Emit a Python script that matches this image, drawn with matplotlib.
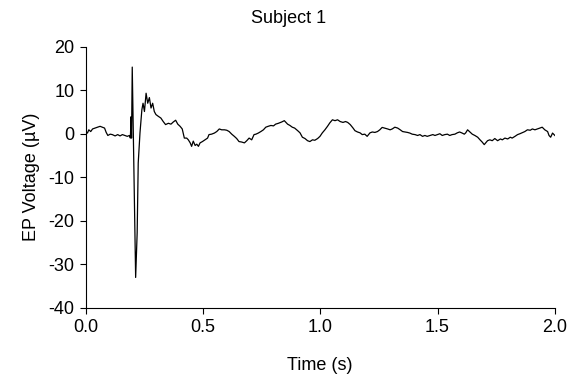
import matplotlib
matplotlib.use("Agg")
import matplotlib.pyplot as plt
from matplotlib.ticker import FormatStrFormatter

plt.rcParams['font.family'] = ['Liberation Sans', 'DejaVu Sans']
plt.rcParams['axes.unicode_minus'] = False

# trace
time_s = [
    0.000, 0.008, 0.014, 0.022, 0.030, 0.040, 0.051, 0.062, 0.072, 0.081, 0.088, 0.095,
    0.105, 0.114, 0.126, 0.137, 0.147, 0.157, 0.168, 0.178, 0.187, 0.191, 0.194, 0.196,
    0.199, 0.2135, 0.220, 0.2245, 0.232, 0.240, 0.245, 0.251, 0.258, 0.265, 0.272, 0.279,
    0.286, 0.293, 0.300, 0.310, 0.321, 0.331, 0.341, 0.353, 0.364, 0.374, 0.384, 0.393,
    0.403, 0.412, 0.421,
    0.431, 0.438, 0.446, 0.452, 0.459, 0.467, 0.474, 0.481, 0.488, 0.498, 0.509, 0.520,
    0.526, 0.537, 0.549, 0.559, 0.570, 0.580, 0.592, 0.602, 0.612, 0.623, 0.634, 0.644,
    0.654, 0.665, 0.677, 0.687, 0.697, 0.708, 0.718, 0.726, 0.736, 0.747, 0.758, 0.768,
    0.778, 0.790, 0.801, 0.810, 0.822, 0.836, 0.847,
    0.861, 0.871, 0.881, 0.891, 0.904, 0.914, 0.924, 0.935, 0.946, 0.956, 0.967, 0.977,
    0.989, 0.999, 1.009, 1.020, 1.031, 1.041, 1.052, 1.063, 1.074, 1.085, 1.097, 1.108,
    1.117, 1.128, 1.140, 1.148, 1.159, 1.170, 1.179, 1.190, 1.200, 1.212, 1.222, 1.233,
    1.244, 1.254, 1.264,
    1.287, 1.298, 1.307, 1.318, 1.330, 1.341, 1.351, 1.361, 1.372, 1.382, 1.392, 1.404,
    1.415, 1.425, 1.436, 1.446, 1.456, 1.468, 1.480, 1.489, 1.500, 1.510, 1.520, 1.531,
    1.542, 1.552, 1.562, 1.574, 1.584, 1.594, 1.605, 1.614, 1.620, 1.628, 1.638, 1.648,
    1.659, 1.671, 1.681, 1.690, 1.699,
    1.713, 1.723, 1.733, 1.744, 1.756, 1.768, 1.776, 1.787, 1.799, 1.810, 1.818, 1.830,
    1.841, 1.851, 1.863, 1.872, 1.883, 1.895, 1.904, 1.915, 1.926, 1.936, 1.946, 1.957,
    1.969, 1.975, 1.982, 1.990, 2.000,
]
voltage_uv = [
    0.5, 0.15, 0.9, 0.5, 1.1, 1.3, 1.5, 1.7, 1.5, 1.3, 0.3, -0.4,
    -0.1, -0.2, -0.5, -0.2, -0.5, -0.2, -0.4, -0.6, -0.4, -1.0, 3.9, -1.0,
    15.3, -33.0, -22.7, -6.7, 0.2, 5.5, 7.0, 5.1, 9.3, 7.0, 8.3, 5.9,
    7.0, 5.1, 4.4, 4.0, 3.6, 2.8, 2.1, 2.4, 2.2, 2.7, 3.1, 2.2,
    1.7, 1.1, -1.0,
    -1.0, -1.4, -2.1, -2.9, -1.7, -2.7, -2.4, -2.9, -2.1, -1.8, -1.4, -1.0,
    -0.2, -0.1, 0.15, 0.5, 1.1, 0.9, 0.9, 0.8, 0.5, -0.1, -0.6, -1.1,
    -1.8, -1.9, -2.1, -1.6, -1.0, -1.4, -0.2, -0.1, 0.15, 0.5, 0.9, 1.5,
    1.7, 1.9, 1.8, 2.2, 2.4, 2.7, 3.0,
    2.2, 1.9, 1.5, 1.3, 0.7, 0.2, -0.8, -1.1, -1.6, -1.8, -1.4, -1.5,
    -1.1, -0.6, 0.2, 0.9, 1.7, 2.5, 3.2, 3.0, 3.2, 2.8, 2.6, 2.8,
    2.6, 2.1, 1.3, 0.7, 0.4, 0.2, -0.2, -0.1, -0.6, 0.2, 0.4, 0.3,
    0.5, 0.9, 1.45,
    1.1, 0.9, 1.1, 1.5, 1.3, 0.9, 0.5, 0.4, 0.3, 0.15, -0.1, -0.2,
    -0.4, -0.2, -0.6, -0.4, -0.6, -0.4, -0.2, -0.4, -0.2, 0.0, -0.4, -0.2,
    -0.1, -0.4, -0.2, -0.1, 0.2, 0.4, 0.15, -0.1, 0.2, 0.9, 0.4, -0.1,
    -0.4, -0.8, -1.4, -1.9, -2.5,
    -1.6, -1.4, -1.6, -1.1, -1.6, -1.2, -1.4, -1.0, -1.2, -0.8, -1.0, -0.6,
    -0.2, 0.0, 0.3, 0.5, 0.9, 0.8, 1.1, 0.9, 1.1, 1.3, 1.5, 0.9,
    0.5, -0.4, -0.8, 0.15, -0.4,
]

x_ticks = [0.0, 0.5, 1.0, 1.5, 2.0]
y_ticks = [-40, -30, -20, -10, 0, 10, 20]

fig = plt.figure(figsize=(5.78, 3.76), dpi=100)
ax = fig.add_axes([0.148, 0.181, 0.812, 0.695])

ax.plot(time_s, voltage_uv, color='black', linewidth=0.9)

ax.set_xlim(0, 2.0)
ax.set_ylim(-40, 20)
ax.set_xticks(x_ticks)
ax.set_yticks(y_ticks)
ax.xaxis.set_major_formatter(FormatStrFormatter('%.1f'))

for side in ['top', 'right']:
    ax.spines[side].set_visible(False)
for side in ['left', 'bottom']:
    ax.spines[side].set_linewidth(0.8)

ax.tick_params(axis='both', direction='out', length=4, width=0.8, labelsize=13, pad=4)

ax.set_xlabel('Time (s)', fontsize=13, labelpad=15)
ax.set_ylabel('EP Voltage (µV)', fontsize=13, labelpad=6)
fig.text(0.5, 0.952, 'Subject 1', ha='center', va='center', fontsize=13)

fig.savefig('out.png', dpi=100)
